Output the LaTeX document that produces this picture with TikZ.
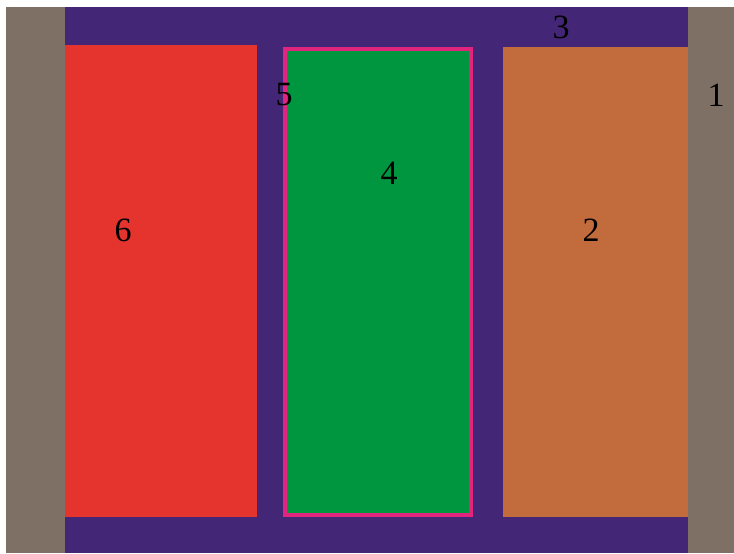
\documentclass[tikz,border=0pt]{standalone}
\usepackage{fontspec}
\setmainfont{Liberation Serif}
\usetikzlibrary{positioning}
\definecolor{cGRY}{HTML}{7F7065}
\definecolor{cPUR}{HTML}{432675}
\definecolor{cRED}{HTML}{E5332D}
\definecolor{cGRN}{HTML}{00963F}
\definecolor{cORG}{HTML}{C26B3D}
\definecolor{cPNK}{HTML}{E1257F}

\begin{document}
\begin{tikzpicture}[x=1pt, y=-1pt,
  num/.style={font=\fontsize{34}{38}\selectfont, inner sep=0pt, text=black}]
\useasboundingbox[fill=white] (0,0) rectangle (734,554);
% frame and background
\fill[cGRY] (6,7) rectangle (65,553);
\fill[cPUR] (65,7) rectangle (688,553);
\fill[cGRY] (688,7) rectangle (734,553);
% blocks
\fill[cRED] (65,45) rectangle (257,517);
\filldraw[cGRN, draw=cPNK, line width=4pt] (285,49) rectangle (471,515);
\fill[cORG] (503,47) rectangle (688,517);
% labels
\node[num] (n1) at (716,95) {1};
\node[num] (n2) at (591,230) {2};
\node[num] (n3) at (561,27) {3};
\node[num] (n4) at (389,173) {4};
\node[num] (n5) at (284,95) {5};
\node[num] (n6) at (123,230) {6};
\end{tikzpicture}
\end{document}
